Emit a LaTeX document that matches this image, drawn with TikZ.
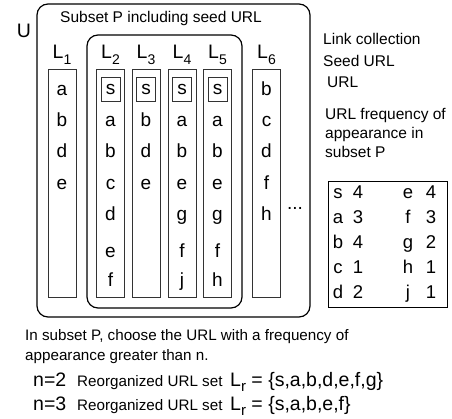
\documentclass[tikz,border=0pt]{standalone}
\usepackage{fontspec}
\setmainfont{Liberation Sans}
\newcommand{\mysub}[2]{\raisebox{-0.28em}{\fontsize{#2}{#2}\selectfont #1}}
\begin{document}
\begin{tikzpicture}[x=1pt,y=-1pt,
  txt/.style={inner sep=0pt,font=\fontsize{15.5}{18}\selectfont},
  btxt/.style={inner sep=0pt,anchor=base west,font=\fontsize{15.2}{18}\selectfont},
  item/.style={inner sep=0pt,anchor=base,font=\fontsize{19}{21}\selectfont},
  titem/.style={inner sep=0pt,anchor=base,font=\fontsize{18.5}{21}\selectfont},
  lab/.style={inner sep=0pt,anchor=base,font=\fontsize{19.5}{22}\selectfont},
  big/.style={inner sep=0pt,anchor=base west,font=\fontsize{19.5}{22}\selectfont},
  col/.style={draw=black!80,line width=0.8pt,minimum width=28pt,minimum height=228pt,inner sep=0pt},
  sbox/.style={draw=black!80,line width=0.8pt,minimum width=19pt,minimum height=24pt,inner sep=0pt,font=\fontsize{19}{21}\selectfont},
  set/.style={draw=black,line width=1.2pt,rounded corners=11pt}]
\useasboundingbox (0,0) rectangle (452,419);
% sets
\draw[set] (37,4) rectangle (310,317);
\draw[set] (87,35) rectangle (242,308);
\node[inner sep=0pt,anchor=base,font=\fontsize{19.5}{22}\selectfont] (U) at (24,38) {U};
\node[txt,anchor=base] (subsetP) at (161,23) {Subset P including seed URL};
% columns
\foreach \n/\x in {1/62,2/110.5,3/146,4/182,5/217.5,6/266.5}{
  \node[col] (c\n) at (\x,183) {};
  \node[lab] (L\n) at (\x,59) {L\mysub{\n}{14}};
}
\foreach \n/\x in {2/110.5,3/146,4/182,5/217.5}{
  \node[sbox] (s\n) at (\x,89.5) {s};
}
% row baselines
\foreach \t/\y [count=\i] in {a/96,b/127,d/158,e/190}{\node[item] (i1-\i) at (62,\y) {\t};}
\foreach \t/\y [count=\i] in {a/127,b/158,c/190,d/221,e/258,f/287}{\node[item] (i2-\i) at (110.5,\y) {\t};}
\foreach \t/\y [count=\i] in {b/127,d/158,e/190}{\node[item] (i3-\i) at (146,\y) {\t};}
\foreach \t/\y [count=\i] in {a/127,b/158,e/190,g/221,f/258,j/287}{\node[item] (i4-\i) at (182,\y) {\t};}
\foreach \t/\y [count=\i] in {a/127,b/158,e/190,g/221,f/258,h/287}{\node[item] (i5-\i) at (217.5,\y) {\t};}
\foreach \t/\y [count=\i] in {b/96,c/127,d/158,f/190,h/221}{\node[item] (i6-\i) at (266.5,\y) {\t};}
\node[item] (dots) at (295,210) {...};
% legend
\node[txt,anchor=base west] (lk) at (323,45) {Link collection};
\node[txt,anchor=base west] (sd) at (323,67) {Seed URL};
\node[txt,anchor=base west] (ur) at (327,88) {URL};
\node[txt,anchor=base west] (fq1) at (325,120) {URL frequency of};
\node[txt,anchor=base west] (fq2) at (325,139) {appearance in};
\node[txt,anchor=base west] (fq3) at (325,158) {subset P};
% table
\draw[line width=0.8pt] (328,181) rectangle (447,307);
\foreach \a/\b/\c/\d/\y in {s/4/e/4/199,a/3/f/3/224,b/4/g/2/249,c/1/h/1/274,d/2/j/1/299}{
  \node[titem] (t\a) at (338,\y) {\a};
  \node[titem] (t\a n) at (358,\y) {\b};
  \node[titem] (t\c) at (408,\y) {\c};
  \node[titem] (t\c n) at (431,\y) {\d};
}
% bottom text
\node[btxt] (b1) at (25,340) {In subset P, choose the URL with a frequency of};
\node[btxt] (b2) at (25,360) {appearance greater than n.};
\node[big] (n2) at (33,386) {n=2};
\node[btxt] (r2) at (77,386) {Reorganized URL set};
\node[big] (l2) at (230,386) {L\mysub{r}{15}\ = \{s,a,b,d,e,f,g\}};
\node[big] (n3) at (33,410) {n=3};
\node[btxt] (r3) at (77,410) {Reorganized URL set};
\node[big] (l3) at (230,410) {L\mysub{r}{15}\ = \{s,a,b,e,f\}};
\end{tikzpicture}
\end{document}
